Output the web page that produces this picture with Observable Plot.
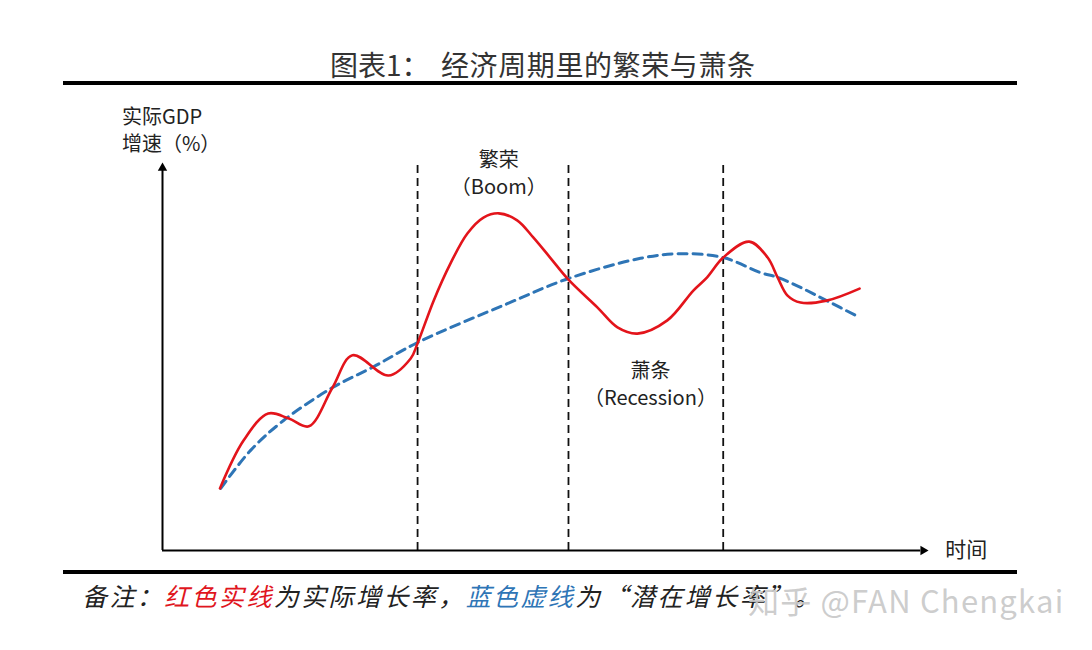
<!DOCTYPE html>
<html><head><meta charset="utf-8">
<script src="https://cdn.jsdelivr.net/npm/d3@7"></script>
<script src="https://cdn.jsdelivr.net/npm/@observablehq/plot@0.6"></script>
<style>
body{margin:0;background:#fff;}
#wrap{position:relative;width:1092px;height:650px;overflow:hidden;font-family:"Noto Sans CJK SC","Noto Sans",sans-serif;}
#chart{position:absolute;left:0;top:0;}
.abs{position:absolute;white-space:nowrap;line-height:1;}
.rule{position:absolute;background:#000;}
</style></head><body>
<div id="wrap">
<div id="chart"></div>
<div class="abs" style="left:330px;top:50px;font-size:28px;color:#333;">图表1：</div>
<div class="abs" style="left:441px;top:50px;font-size:28px;color:#333;letter-spacing:0.6px;">经济周期里的繁荣与萧条</div>
<div class="rule" style="left:63px;top:81px;width:954px;height:4px;"></div>
<div class="rule" style="left:63px;top:570px;width:954px;height:4px;"></div>
<div class="abs" style="left:82px;top:583px;font-size:25px;letter-spacing:2.4px;font-style:italic;color:#222;">备注：<span style="color:#e0161e">红色实线</span>为实际增长率，<span style="color:#2e75b6">蓝色虚线</span>为“潜在增长率”。</div>
<div class="abs" style="left:748px;top:584px;font-size:31px;letter-spacing:1.2px;color:rgba(200,200,200,0.92);">知乎 @FAN Chengkai</div>
</div>
<script>
// Actual real GDP growth (red solid line)
const actualTime   = [7.5, 10.6, 13.8, 16.5, 19.1, 22.2, 24.8, 29.5, 32.4, 33.3, 35.4, 37.6, 39.8, 41.9, 43.9, 46.3, 48.4, 50.6, 53.0, 56.8, 59.4, 62.0, 65.9, 69.3, 71.1, 73.2, 76.6, 79.0, 80.3, 81.6, 83.3, 86.7, 91.0];
const actualGrowth = [16.0, 28.4, 35.3, 34.0, 32.0, 42.0, 50.3, 45.1, 49.5, 53.4, 64.4, 74.0, 81.7, 85.8, 86.9, 85.1, 80.7, 75.5, 69.8, 62.6, 57.5, 55.9, 59.3, 67.0, 70.4, 75.5, 79.6, 75.5, 70.4, 65.7, 63.9, 64.4, 67.5];
// Potential growth (blue dashed line)
const potentialTime   = [7.6, 11.5, 15.8, 22.2, 27.5, 33.3, 45.0, 53.0, 62.4, 67.6, 73.2, 78.1, 80.3, 83.3, 86.7, 91.0];
const potentialGrowth = [16.0, 25.8, 33.5, 42.0, 47.3, 53.6, 63.6, 70.1, 75.3, 76.5, 75.5, 71.6, 70.4, 67.8, 64.4, 60.1];
// Phase boundaries (dashed verticals)
const boundaries = [33.3, 53.0, 73.2];
// Phase labels
const phaseNames = ["繁荣", "（Boom）", "萧条", "（Recession）"];
const phaseTime  = [43.9, 43.9, 63.7, 63.7];
const phaseLevel = [100.5, 93.6, 46.1, 39.2];
// Axis labels
const yLabelLines = ["实际GDP", "增速（%）"];
const xLabel = "时间";

const actual = actualTime.map((t, i) => ({t, g: actualGrowth[i]}));
const potential = potentialTime.map((t, i) => ({t, g: potentialGrowth[i]}));
const phases = phaseNames.map((s, i) => ({s, t: phaseTime[i], g: phaseLevel[i]}));
const font = "Noto Sans CJK SC";

const chart = Plot.plot({
  width: 1092, height: 650,
  marginLeft: 162, marginRight: 164, marginTop: 162, marginBottom: 100,
  x: {domain: [0, 100], axis: null},
  y: {domain: [0, 100], axis: null},
  style: {background: "transparent"},
  marks: [
    Plot.ruleX(boundaries, {y1: 0, y2: 100.5, stroke: "#111", strokeWidth: 1.8, strokeDasharray: "8,5"}),
    Plot.ruleX([0], {y1: 0, y2: 98, stroke: "#000", strokeWidth: 2}),
    Plot.ruleY([0], {x1: 0, x2: 99, stroke: "#000", strokeWidth: 2}),
    Plot.dot([{t: 0, g: 98.6}], {x: "t", y: "g", symbol: "triangle2", r: 4.5, fill: "#000", stroke: null}),
    Plot.dot([{t: 99.3, g: 0}], {x: "t", y: "g", symbol: "triangle2", r: 4.5, fill: "#000", stroke: null, rotate: 90}),
    Plot.line(potential, {x: "t", y: "g", stroke: "#2e75b6", strokeWidth: 3, strokeDasharray: "9,6", curve: "catmull-rom"}),
    Plot.line(actual, {x: "t", y: "g", stroke: "#e3141b", strokeWidth: 2.6, curve: "catmull-rom"}),
    Plot.text(phases, {x: "t", y: "g", text: "s", fontSize: 20, fontFamily: font, fill: "#222"}),
    Plot.text(yLabelLines, {x: -5.3, y: (d, i) => [111.6, 104.6][i], text: d => d, textAnchor: "start", fontSize: 20, fontFamily: font, fill: "#222"}),
    Plot.text([xLabel], {x: 102.2, y: 0, text: d => d, textAnchor: "start", fontSize: 21, fontFamily: font, fill: "#222"})
  ]
});
document.getElementById("chart").appendChild(chart);
</script>
</body></html>
